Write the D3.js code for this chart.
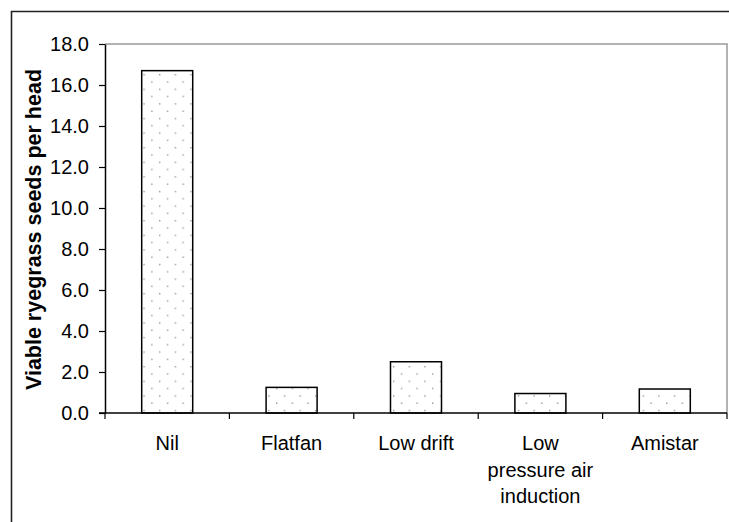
<!DOCTYPE html>
<html>
<head>
<meta charset="utf-8">
<script src="https://cdn.jsdelivr.net/npm/d3@7"></script>
<style>
  html, body { margin: 0; padding: 0; background: #fff; }
  svg { display: block; }
  text { font-family: Arial, "Liberation Sans", sans-serif; fill: #000; }
</style>
</head>
<body>
<div id="chart"></div>
<script>
const categories = ["Nil", "Flatfan", "Low drift", "Low pressure air induction", "Amistar"];
const categoryLines = [["Nil"], ["Flatfan"], ["Low drift"], ["Low", "pressure air", "induction"], ["Amistar"]];
const values = [16.7, 1.25, 2.5, 0.95, 1.17];
const yTicks = [0, 2, 4, 6, 8, 10, 12, 14, 16, 18];
const yTitle = "Viable ryegrass seeds per head";

const W = 729, H = 522;
const plot = { left: 105, right: 727, top: 44, bottom: 413 };

const svg = d3.select("#chart").append("svg").attr("width", W).attr("height", H);

// dot pattern
const defs = svg.append("defs");
const pat = defs.append("pattern").attr("id", "dots")
  .attr("patternUnits", "userSpaceOnUse")
  .attr("width", 15.6).attr("height", 14.6)
  .attr("x", 3).attr("y", 1);
pat.append("rect").attr("width", 15.6).attr("height", 14.6).attr("fill", "#fff");
pat.append("rect").attr("x", 0).attr("y", 0).attr("width", 1.4).attr("height", 1.4).attr("fill", "#9a9a9a");
pat.append("rect").attr("x", 7.8).attr("y", 7.3).attr("width", 1.4).attr("height", 1.4).attr("fill", "#9a9a9a");

// outer border
svg.append("path")
  .attr("d", `M${W + 5},11.5 H11.5 V${H + 5}`)
  .attr("fill", "none").attr("stroke", "#222").attr("stroke-width", 1.6);

const x = d3.scaleBand().domain(categories).range([plot.left, plot.right]).padding(0);
const y = d3.scaleLinear().domain([0, 18]).range([plot.bottom, plot.top]);

// plot area border (top and right, gray)
svg.append("path")
  .attr("d", `M${plot.left},${plot.top} H${plot.right} V${plot.bottom}`)
  .attr("fill", "none").attr("stroke", "#999").attr("stroke-width", 1.5);

// bars
const barW = x.bandwidth() * 0.41;
svg.append("g").selectAll("rect").data(values).join("rect")
  .attr("x", (d, i) => x(categories[i]) + (x.bandwidth() - barW) / 2)
  .attr("y", d => y(d))
  .attr("width", barW)
  .attr("height", d => y(0) - y(d))
  .attr("fill", "url(#dots)")
  .attr("stroke", "#000").attr("stroke-width", 1.5);

// y axis
const yAxis = d3.axisLeft(y).tickValues(yTicks).tickFormat(d3.format(".1f"))
  .tickSizeInner(6).tickSizeOuter(0).tickPadding(10);
const gy = svg.append("g").attr("transform", `translate(${plot.left},0)`).call(yAxis);
gy.select(".domain").attr("stroke", "#000").attr("stroke-width", 1.5);
gy.selectAll(".tick line").attr("stroke", "#000").attr("stroke-width", 1.2);
gy.selectAll(".tick text").style("font-size", "20px").attr("font-family", "Arial, 'Liberation Sans', sans-serif");

// x axis
svg.append("line")
  .attr("x1", plot.left - 6).attr("x2", plot.right)
  .attr("y1", y(0)).attr("y2", y(0))
  .attr("stroke", "#000").attr("stroke-width", 1.5);
const boundaries = categories.map(c => x(c)).concat([plot.right]);
svg.append("g").selectAll("line").data(boundaries).join("line")
  .attr("x1", d => d).attr("x2", d => d)
  .attr("y1", y(0)).attr("y2", y(0) + 6)
  .attr("stroke", "#000").attr("stroke-width", 1.2);

const xl = svg.append("g").selectAll("text").data(categoryLines).join("text")
  .attr("text-anchor", "middle")
  .style("font-size", "20px")
  .attr("transform", (d, i) => `translate(${x(categories[i]) + x.bandwidth() / 2},${y(0) + 37})`);
xl.selectAll("tspan").data(d => d).join("tspan")
  .attr("x", 0).attr("dy", (d, j) => j === 0 ? 0 : 26.7)
  .text(d => d);

// y title
svg.append("text")
  .attr("transform", `translate(41,${(plot.top + plot.bottom) / 2 + 1}) rotate(-90)`)
  .attr("text-anchor", "middle")
  .style("font-size", "21.5px").style("font-weight", "bold")
  .text(yTitle);
</script>
</body>
</html>
